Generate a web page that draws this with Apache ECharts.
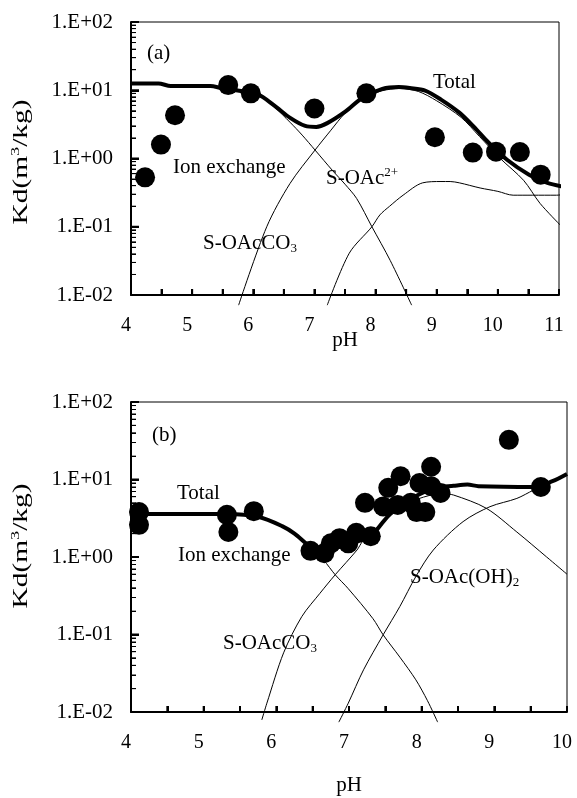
<!DOCTYPE html>
<html>
<head>
<meta charset="utf-8">
<script src="https://cdn.jsdelivr.net/npm/echarts@6/dist/echarts.min.js"></script>
<style>
  html, body { margin: 0; padding: 0; background: #fff; }
  #chartsDiv { width: 577px; height: 798px; }
</style>
</head>
<body>
<div id="chartsDiv"></div>
<script>
// ---- (a) ----
var phA = [4.23, 4.49, 4.72, 5.59, 5.96, 7.00, 7.85, 8.97, 9.59, 9.97, 10.36, 10.70];
var kdA = [0.53, 1.6, 4.3, 11.9, 9.0, 5.4, 9.0, 2.05, 1.22, 1.26, 1.24, 0.58];

var totalA_ph = [4.0, 4.45, 4.65, 5.3, 5.47, 6.07, 6.34, 6.61, 6.85, 7.03, 7.21, 7.51, 7.78, 8.11, 8.38, 8.56, 8.81, 9.07, 9.37, 9.61, 9.85, 10.15, 10.51, 10.81, 11.18];
var totalA_kd = [12.6, 12.6, 11.5, 11.5, 10.8, 8.7, 6.0, 3.9, 3.0, 2.9, 3.3, 4.9, 7.7, 10.5, 11.2, 10.8, 9.9, 7.3, 4.7, 2.9, 1.7, 0.96, 0.58, 0.44, 0.37];

var ionA_ph = [4.0, 4.45, 4.65, 5.3, 5.47, 6.07, 6.34, 6.6, 6.8, 7.01, 7.3, 7.5, 7.69, 7.94, 8.24, 8.59];
var ionA_kd = [12.6, 12.6, 11.5, 11.5, 10.8, 8.5, 5.7, 3.4, 2.2, 1.33, 0.66, 0.42, 0.26, 0.10, 0.032, 0.0071];

var co3A_ph = [5.76, 6.22, 6.6, 7.01, 7.27, 7.5, 7.8, 8.1, 8.4, 8.7, 9.0, 9.4, 9.7, 10.04, 10.42, 10.69, 11.02];
var co3A_kd = [0.0071, 0.10, 0.43, 1.33, 2.6, 4.6, 7.6, 9.8, 10.6, 9.6, 7.0, 4.0, 2.1, 1.0, 0.48, 0.22, 0.106];

var oac2A_ph = [7.21, 7.57, 7.94, 8.07, 8.23, 8.45, 8.77, 9.07, 9.22, 9.37, 9.71, 10.0, 10.25, 10.57, 10.96, 11.2];
var oac2A_kd = [0.0071, 0.041, 0.10, 0.149, 0.20, 0.29, 0.44, 0.46, 0.46, 0.44, 0.37, 0.33, 0.29, 0.29, 0.29, 0.31];

// ---- (b) ----
var phB = [4.11, 4.11, 5.32, 5.34, 5.69, 6.47, 6.66, 6.75, 6.87, 6.99, 7.10, 7.30, 7.22, 7.47, 7.54, 7.67, 7.71, 7.85, 7.93, 7.97, 8.05, 8.13, 8.13, 8.26, 9.20, 9.64];
var kdB = [3.8, 2.6, 3.5, 2.1, 3.9, 1.2, 1.12, 1.5, 1.75, 1.5, 2.05, 1.85, 5.0, 4.5, 7.8, 4.7, 11.0, 5.0, 3.8, 9.0, 3.8, 14.6, 8.2, 6.7, 32.5, 8.0];

var totalB_ph = [4.0, 5.32, 5.75, 6.08, 6.25, 6.46, 6.61, 7.01, 7.29, 7.49, 7.67, 7.92, 8.18, 8.44, 8.63, 8.78, 9.55, 9.80, 10.0];
var totalB_kd = [3.6, 3.6, 3.3, 2.5, 2.0, 1.37, 1.18, 1.5, 1.84, 3.0, 4.5, 6.1, 7.8, 8.3, 8.6, 8.2, 8.0, 9.5, 11.8];

var ionB_ph = [4.0, 5.32, 5.75, 6.08, 6.25, 6.46, 6.65, 6.81, 6.99, 7.33, 7.47, 7.70, 7.92, 8.08, 8.22];
var ionB_kd = [3.6, 3.6, 3.3, 2.5, 2.0, 1.3, 0.91, 0.59, 0.39, 0.16, 0.099, 0.051, 0.026, 0.014, 0.0074];

var co3B_ph = [5.80, 5.87, 6.10, 6.35, 6.60, 6.81, 7.11, 7.19, 7.52, 7.80, 8.10, 8.30, 8.44, 8.89, 9.31, 9.72, 10.0];
var co3B_kd = [0.0079, 0.013, 0.058, 0.17, 0.34, 0.59, 1.23, 1.6, 3.1, 4.9, 6.2, 6.5, 6.3, 4.25, 2.1, 1.0, 0.6];

var ohB_ph = [6.86, 6.99, 7.20, 7.47, 7.70, 7.92, 8.16, 8.57, 8.94, 9.31, 9.54, 10.0];
var ohB_kd = [0.0074, 0.013, 0.035, 0.099, 0.23, 0.56, 1.23, 2.86, 4.46, 5.7, 7.3, 11.4];

// tick values
var xTicksA = [4, 4.5, 5, 5.5, 6, 6.5, 7, 7.5, 8, 8.5, 9, 9.5, 10, 10.5, 11];
var xTicksB = [4, 4.5, 5, 5.5, 6, 6.5, 7, 7.5, 8, 8.5, 9, 9.5, 10];
var yMajorTicks = [0.01, 0.1, 1, 10, 100];
var yMinorTicks = [0.02, 0.03, 0.04, 0.05, 0.06, 0.07, 0.08, 0.09,
                   0.2, 0.3, 0.4, 0.5, 0.6, 0.7, 0.8, 0.9,
                   2, 3, 4, 5, 6, 7, 8, 9,
                   20, 30, 40, 50, 60, 70, 80, 90];
var yTickLabels = ['1.E-02', '1.E-01', '1.E+00', '1.E+01', '1.E+02'];

var FONT = 'Liberation Serif';

function pairs(xs, ys) {
  return xs.map(function (x, i) { return [x, ys[i]]; });
}

var xAxisOf = function (idx, max) {
  return {
    gridIndex: idx,
    type: 'value',
    min: 4,
    max: max,
    interval: 0.5,
    name: 'pH',
    nameLocation: 'middle',
    nameMoveOverlap: false,
    nameGap: idx === 0 ? 35 : 63,
    nameTextStyle: { fontFamily: FONT, fontSize: 21, color: '#000' },
    axisLine: { show: true, lineStyle: { color: '#000', width: 2 } },
    axisTick: { show: true, inside: true, length: 6, lineStyle: { color: '#000', width: 2 } },
    splitLine: { show: false },
    axisLabel: {
      fontFamily: FONT, fontSize: 20, color: '#000', margin: 21,
      padding: [0, 10, 0, 0],
      formatter: function (v) { return Math.abs(v - Math.round(v)) < 1e-6 ? String(Math.round(v)) : ''; }
    }
  };
};

var yAxisOf = function (idx) {
  return {
    gridIndex: idx,
    type: 'log',
    min: 0.01,
    max: 100,
    axisLine: { show: true, lineStyle: { color: '#000', width: 2 } },
    axisTick: { show: true, inside: true, length: 8, lineStyle: { color: '#000', width: 2 } },
    minorTick: { show: true, splitNumber: 9, length: 5, lineStyle: { color: '#000', width: 1 } },
    splitLine: { show: false },
    axisLabel: {
      fontFamily: FONT, fontSize: 21, color: '#000', margin: 18,
      formatter: function (v) { return yTickLabels[Math.round(Math.log10(v)) + 2]; }
    }
  };
};

// inside tick marks, placed through the axes' own scales
var tickSeries = function (idx, xTicks) {
  var data = xTicks.map(function (v) { return [v, 0.01, 6, 0]; })
    .concat(yMajorTicks.map(function (v) { return [4, v, 8, 1]; }))
    .concat(yMinorTicks.map(function (v) { return [4, v, 5, 1]; }));
  return {
    name: 'ticks ' + idx, type: 'custom', xAxisIndex: idx, yAxisIndex: idx,
    clip: false, silent: true, z: 4, data: data,
    renderItem: function (params, api) {
      var p = api.coord([api.value(0), api.value(1)]);
      var len = api.value(2);
      var vertical = api.value(3) === 0;
      return {
        type: 'line',
        shape: vertical
          ? { x1: p[0], y1: p[1], x2: p[0], y2: p[1] - len }
          : { x1: p[0], y1: p[1], x2: p[0] + len, y2: p[1] },
        style: { stroke: '#000', lineWidth: len > 5 ? 2 : 1 }
      };
    }
  };
};

var thin = function (name, xi, data) {
  return {
    name: name, type: 'line', xAxisIndex: xi, yAxisIndex: xi,
    data: data, symbol: 'none', clip: false, smooth: 0.3,
    lineStyle: { color: '#000', width: 1 }, z: 2
  };
};
var thick = function (name, xi, data) {
  return {
    name: name, type: 'line', xAxisIndex: xi, yAxisIndex: xi,
    data: data, symbol: 'none', clip: false, smooth: 0.3,
    lineStyle: { color: '#000', width: 4 }, z: 3
  };
};
var dots = function (name, xi, data) {
  return {
    name: name, type: 'scatter', xAxisIndex: xi, yAxisIndex: xi,
    data: data, symbolSize: 20, itemStyle: { color: '#000', opacity: 1 }, z: 5
  };
};

var richStyles = {
  sup: { fontFamily: FONT, fontSize: 13, fill: '#000', verticalAlign: 'top', lineHeight: 14 },
  sub: { fontFamily: FONT, fontSize: 13, fill: '#000', verticalAlign: 'bottom', lineHeight: 14 }
};

var label = function (x, y, text) {
  return {
    type: 'text', x: x, y: y, z: 10,
    style: {
      text: text, fill: '#000', fontFamily: FONT, fontSize: 21,
      align: 'left', verticalAlign: 'middle', lineHeight: 24, rich: richStyles
    }
  };
};

// y axis title, rotated and stretched along its length like the original
var kdTitle = function (y) {
  return {
    type: 'text', x: 21, y: y, rotation: Math.PI / 2, scaleX: 1.4, z: 10,
    style: {
      text: 'Kd(m{sup|3}/kg)', fill: '#000', fontFamily: FONT, fontSize: 21,
      align: 'center', verticalAlign: 'middle', lineHeight: 24, rich: richStyles
    }
  };
};

var realChart = echarts.init(document.getElementById('chartsDiv'));

var option = {
  animation: false,
  grid: [
    { left: 131, top: 22, width: 428, height: 273, show: true, borderColor: '#000', borderWidth: 1 },
    { left: 131, top: 402, width: 436, height: 310, show: true, borderColor: '#000', borderWidth: 1 }
  ],
  xAxis: [xAxisOf(0, 11), xAxisOf(1, 10)],
  yAxis: [yAxisOf(0), yAxisOf(1)],
  graphic: [
    kdTitle(162),
    kdTitle(546),
    label(147, 53, '(a)'),
    label(433, 82, 'Total'),
    label(173, 167, 'Ion exchange'),
    label(326, 178, 'S-OAc{sup|2+}'),
    label(203, 243, 'S-OAcCO{sub|3}'),
    label(152, 435, '(b)'),
    label(177, 493, 'Total'),
    label(178, 555, 'Ion exchange'),
    label(223, 643, 'S-OAcCO{sub|3}'),
    label(410, 577, 'S-OAc(OH){sub|2}')
  ],
  series: [
    tickSeries(0, xTicksA),
    tickSeries(1, xTicksB),
    thin('Ion exchange a', 0, pairs(ionA_ph, ionA_kd)),
    thin('S-OAcCO3 a', 0, pairs(co3A_ph, co3A_kd)),
    thin('S-OAc2+ a', 0, pairs(oac2A_ph, oac2A_kd)),
    thick('Total a', 0, pairs(totalA_ph, totalA_kd)),
    dots('Measured a', 0, pairs(phA, kdA)),
    thin('Ion exchange b', 1, pairs(ionB_ph, ionB_kd)),
    thin('S-OAcCO3 b', 1, pairs(co3B_ph, co3B_kd)),
    thin('S-OAc(OH)2 b', 1, pairs(ohB_ph, ohB_kd)),
    thick('Total b', 1, pairs(totalB_ph, totalB_kd)),
    dots('Measured b', 1, pairs(phB, kdB))
  ]
};

realChart.setOption(option);
</script>
</body>
</html>
